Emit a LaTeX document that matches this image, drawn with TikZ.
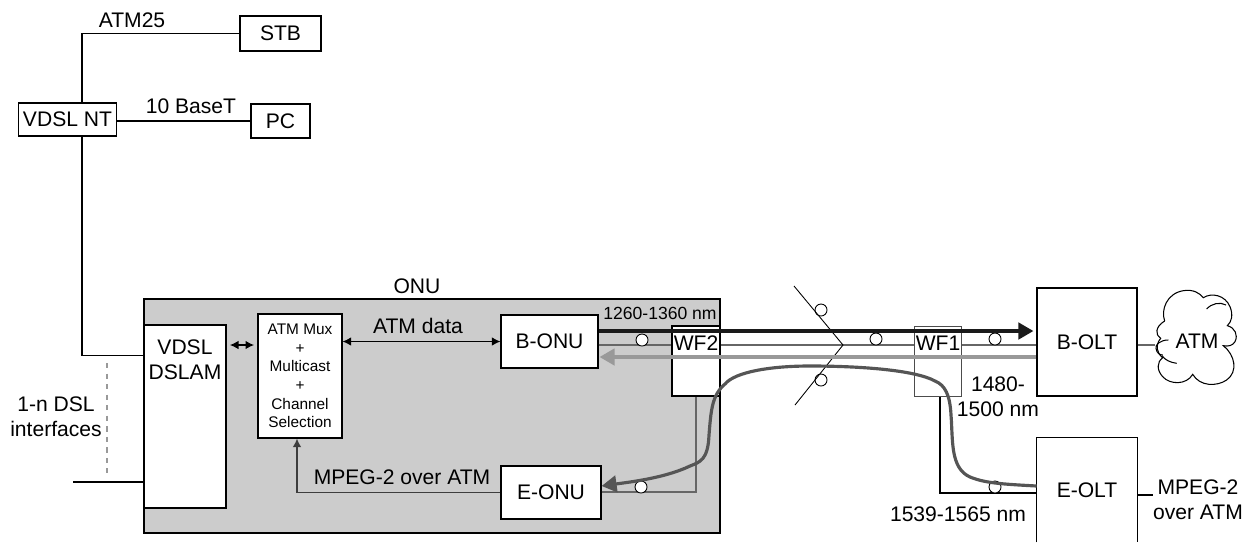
\documentclass[tikz,border=0pt]{standalone}
\usepackage{fontspec}
\setmainfont{Liberation Sans}
\usetikzlibrary{arrows.meta, calc}
\definecolor{OnuGrey}{HTML}{CCCCCC}
\definecolor{FibreBlack}{HTML}{1A1A1A}
\definecolor{FibreGrey}{HTML}{999999}
\definecolor{FibreDark}{HTML}{555555}
\definecolor{ThinGrey}{HTML}{666666}
\tikzset{
    % Node styles
    unitbox/.style={
        rectangle,
        draw=black,
        fill=white,
        line width=0.7pt,
        inner sep=0pt,
        text centered,
        font=\fontsize{12}{14}\selectfont
    },
    plainlabel/.style={
        inner sep=0pt,
        align=center,
        font=\fontsize{12}{14}\selectfont
    },
    tapcircle/.style={
        circle,
        draw=black,
        fill=white,
        line width=0.5pt,
        inner sep=0pt,
        minimum size=0.24cm
    },
    % Arrow styles
    thinline/.style={
        line width=0.6pt,
        black
    },
    greyline/.style={
        line width=0.8pt,
        ThinGrey
    },
    smallarrow/.style={
        line width=0.6pt,
        >={Latex[length=1.7mm,width=1.7mm]}
    },
    fibrearrow/.style={
        line width=1.8pt,
        ->,
        >={Triangle[length=3mm,width=3.3mm]}
    }
}
\begin{document}
\begin{tikzpicture}[x=0.02cm,y=-0.02cm]
    \useasboundingbox (0,0) rectangle (1250,542);

    % Rows of the fibre lines
    \coordinate (rowblack) at (0,331);
    \coordinate (rowthin) at (0,345);
    \coordinate (rowgrey) at (0,357);
    \coordinate (coltapa) at (696,0);
    \coordinate (coltapb) at (940,0);

    % ONU housing
    \node[unitbox,fill=OnuGrey,minimum width=11.52cm,minimum height=4.68cm] (onu) at (432,416) {};
    \node[plainlabel] (onulabel) at (417,286) {ONU};

    % Units inside the ONU
    \node[unitbox,minimum width=1.64cm,minimum height=3.66cm] (dslam) at (185,416.5) {};
    \node[plainlabel] (dslamlabel) at (185,360) {VDSL\\DSLAM};
    \node[unitbox,minimum width=1.68cm,minimum height=2.48cm,align=center,font=\fontsize{8.75}{10.55}\selectfont] (mux) at (300,376)
        {ATM Mux\\+\\Multicast\\+\\Channel\\Selection};
    \node[unitbox,minimum width=1.94cm,minimum height=1.06cm] (bonu) at (549.5,341.5) {B-ONU};
    \node[unitbox,minimum width=2cm,minimum height=1.06cm] (eonu) at (551,492.5) {E-ONU};

    % Home side
    \node[unitbox,minimum width=1.96cm,minimum height=0.66cm] (nt) at (67.5,119.5) {VDSL NT};
    \node[unitbox,minimum width=1.62cm,minimum height=0.7cm] (stb) at (280.5,33.5) {STB};
    \node[unitbox,minimum width=1.18cm,minimum height=0.68cm] (pc) at (280.5,121) {PC};
    \coordinate (ntline) at (82,0);
    \draw[thinline] (nt.north -| ntline) |- (stb.west);
    \draw[thinline] (nt.east |- pc.west) -- (pc.west);
    \draw[thinline] (nt.south -| ntline) |- ($(dslam.north west)!0.17!(dslam.south west)$);
    \node[plainlabel] (atmlabel) at (132,20) {ATM25};
    \node[plainlabel] (baselabel) at (191,106) {10 BaseT};

    % DSL interfaces
    \coordinate (dslend) at (73,482);
    \draw[thinline] (dslend) -- (dslam.west |- dslend);
    \coordinate (dasha) at (107,363);
    \coordinate (dashb) at (107,473);
    \draw[line width=0.9pt,dashed,FibreGrey] (dasha) -- (dashb);
    \node[plainlabel] (dsllabel) at (56,417) {1-n DSL\\interfaces};

    % Links inside the ONU
    \coordinate (linka) at (230,345);
    \coordinate (linkb) at (254,345);
    \draw[smallarrow,<->] (linka) -- (linkb);
    \draw[smallarrow,<->] (mux.east |- bonu.west) -- (bonu.west);
    \node[plainlabel] (datalabel) at (418,326) {ATM data};
    \coordinate (muxin) at (297,0);
    \draw[smallarrow,->,ThinGrey!60!black] (eonu.west) -| (mux.south -| muxin);
    \node[plainlabel] (mpeglabel) at (402,477) {MPEG-2 over ATM};

    % Central office units
    \node[unitbox,minimum width=2cm,minimum height=2.16cm] (bolt) at (1087,342) {B-OLT};
    \node[minimum width=2cm,minimum height=2.08cm,inner sep=0pt,font=\fontsize{12}{14}\selectfont] (eolt) at (1087,490) {E-OLT};
    \draw[line width=0.7pt] (eolt.south west) -- (eolt.north west) -- (eolt.north east) -- (eolt.south east);

    % Thin fibres behind the filters
    \draw[greyline] (bonu.east |- rowthin) -- (bolt.west |- rowthin);
    \draw[greyline] (eonu.east |- 0,492) -| (coltapa |- 0,396);
    \draw[thinline] (eolt.west |- 0,493) -| (coltapb |- 0,396);

    % Filters
    \node[unitbox,draw=black,minimum width=0.96cm,minimum height=1.4cm] (wftwo) at (696,361) {};
    \node[unitbox,draw=black!70,line width=0.5pt,minimum width=0.94cm,minimum height=1.4cm] (wfone) at (937.5,361) {};

    % Tap circles
    \foreach \n/\x/\y in {tapa/642/340,tapb/641/487,tapc/876/339,tapd/995/339,tape/995/487,tapf/821/310,tapg/821/380} {
        \node[tapcircle] (\n) at (\x,\y) {};
    }

    % Splitter
    \coordinate (splita) at (794,286);
    \coordinate (splitb) at (843,345);
    \coordinate (splitc) at (795,405);
    \draw[line width=0.5pt] (splita) -- (splitb) -- (splitc);

    % Wavelength arrows
    \draw[fibrearrow,FibreBlack] (bonu.east |- rowblack) -- ($(bolt.west |- rowblack)+(-3,0)$);
    \draw[fibrearrow,FibreGrey] (bolt.west |- rowgrey) -- ($(bonu.east |- rowgrey)+(1,0)$);
    \draw[fibrearrow,FibreDark] (eolt.west |- 0,486) .. controls (1000,484) and (985,483) .. (970,477)
        .. controls (950,468) and (953,440) .. (951,415)
        .. controls (950,395) and (945,385) .. (935,381)
        .. controls (915,370) and (860,366) .. (810,366)
        .. controls (770,366) and (735,372) .. (725,384)
        .. controls (712,395) and (711,410) .. (709,435)
        .. controls (708,460) and (700,462) .. (690,466)
        .. controls (665,478) and (630,482) .. (eonu.east |- 0,486);

    % Filter labels
    \node[plainlabel] (wftwolabel) at (696,343) {WF2};
    \node[plainlabel] (wfonelabel) at (938,343) {WF1};

    % Wavelength labels
    \node[plainlabel,font=\fontsize{10}{12}\selectfont] (uplabel) at (660,313) {1260-1360 nm};
    \node[plainlabel] (downlabel) at (998,396.5) {1480-\\1500 nm};
    \node[plainlabel] (videolabel) at (958,514) {1539-1565 nm};

    % Network side
    \node[plainlabel] (cloudlabel) at (1197,341) {ATM};
    \node[plainlabel] (videoout) at (1198,499.5) {MPEG-2\\over ATM};
    \coordinate (videoend) at (1153,495);
    \draw[thinline] (eolt.east |- videoend) -- (videoend);
    \coordinate (cloudend) at (1155,345);
    \draw[greyline] (bolt.east |- cloudend) -- (cloudend);

    % Cloud
    \begin{scope}[shift={(1140,285)},x=0.00667cm,y=-0.00667cm,line width=0.6pt]
        \draw (74,108) .. controls (62,75) and (80,25) .. (130,17)
            .. controls (160,12) and (180,25) .. (190,38)
            .. controls (215,22) and (255,30) .. (270,65)
            .. controls (280,90) and (275,110) .. (262,122)
            .. controls (285,128) and (295,150) .. (285,170)
            .. controls (278,182) and (265,185) .. (250,182)
            .. controls (285,210) and (295,260) .. (260,285)
            .. controls (230,305) and (180,305) .. (158,268)
            .. controls (140,300) and (90,300) .. (68,275)
            .. controls (50,255) and (50,232) .. (68,218)
            .. controls (50,205) and (45,180) .. (62,160)
            .. controls (45,150) and (45,125) .. (74,108);
        \draw (200,72) .. controls (215,55) and (240,50) .. (258,60);
        \draw (110,235) .. controls (90,232) and (75,225) .. (66,212);
        \draw (85,165) .. controls (60,165) and (45,180) .. (48,190)
            .. controls (50,205) and (60,210) .. (68,210);
    \end{scope}
\end{tikzpicture}
\end{document}
